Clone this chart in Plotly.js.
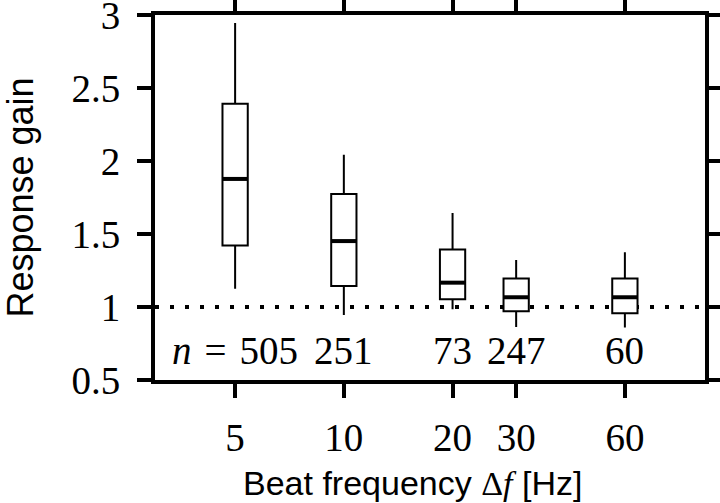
<!DOCTYPE html>
<html>
<head>
<meta charset="utf-8">
<script src="https://cdn.plot.ly/plotly-3.0.1.min.js"></script>
<style>html,body{margin:0;padding:0;background:#fff}#chart{width:720px;height:503px}</style>
</head>
<body>
<div id="chart"></div>
<script>
// Data
var beatFreq   = [5, 10, 20, 30, 60];
var nCounts    = [505, 251, 73, 247, 60];
var lowerFence = [1.126, 0.946, 0.985, 0.864, 0.860];
var q1         = [1.422, 1.144, 1.053, 0.971, 0.958];
var medians    = [1.878, 1.452, 1.167, 1.067, 1.067];
var q3         = [2.394, 1.775, 1.395, 1.195, 1.195];
var upperFence = [2.947, 2.044, 1.645, 1.322, 1.376];
var xTickLabels = ['5', '10', '20', '30', '60'];
var yTickVals = [0.5, 1, 1.5, 2, 2.5, 3];
var yTickLabels = ['0.5', '1', '1.5', '2', '2.5', '3'];
var refLevel = 1;

var logPos = beatFreq.map(function (v) { return Math.log10(v); });
var boxW = 0.07;

var traces = [{
  type: 'box',
  x: logPos,
  q1: q1, median: medians, q3: q3,
  lowerfence: lowerFence, upperfence: upperFence,
  width: boxW,
  boxpoints: false,
  fillcolor: '#ffffff',
  line: {color: '#000000', width: 2},
  whiskerwidth: 0,
  hoverinfo: 'skip',
  showlegend: false
}];

logPos.forEach(function (p, i) {
  traces.push({
    type: 'scatter', mode: 'lines',
    x: [p - boxW / 2, p + boxW / 2],
    y: [medians[i], medians[i]],
    line: {color: '#000000', width: 4},
    hoverinfo: 'skip', showlegend: false
  });
});

var annotations = logPos.map(function (p, i) {
  return {
    x: p, y: 0.705, xref: 'x', yref: 'y',
    text: (i === 0 ? '<i>n</i> \u200A=\u200A ' : '') + nCounts[i],
    showarrow: false, xanchor: 'center', yanchor: 'middle',
    font: {family: 'Liberation Serif', size: 39, color: '#000'}
  };
});

annotations.push({
  xref: 'paper', yref: 'paper', x: 0.469, y: -0.225,
  xanchor: 'center', yanchor: 'top', showarrow: false,
  text: 'Beat frequency <span style="font-family:Liberation Serif">Δ<i>f</i></span> [Hz]',
  font: {family: 'Liberation Sans', size: 34, color: '#000'}
});

var layout = {
  width: 720, height: 503,
  margin: {l: 155, r: 15, t: 15, b: 123},
  paper_bgcolor: '#ffffff', plot_bgcolor: '#ffffff',
  xaxis: {
    type: 'linear',
    range: [Math.log10(3), 2],
    tickvals: logPos, ticktext: xTickLabels,
    ticks: 'outside', ticklen: 14, tickwidth: 4, tickcolor: '#000',
    showline: true, linewidth: 4, linecolor: '#000', mirror: 'ticks',
    showgrid: false, zeroline: false,
    ticklabelstandoff: 6,
    ticklabeloverflow: 'allow',
    tickfont: {family: 'Liberation Serif', size: 39, color: '#000'}
  },
  yaxis: {
    range: [0.4999, 3.0015],
    tickvals: yTickVals, ticktext: yTickLabels,
    ticks: 'outside', ticklen: 14, tickwidth: 4, tickcolor: '#000',
    showline: true, linewidth: 4, linecolor: '#000', mirror: 'ticks',
    showgrid: false, zeroline: false,
    ticklabelstandoff: 9,
    ticklabeloverflow: 'allow',
    tickfont: {family: 'Liberation Serif', size: 39, color: '#000'},
    title: {text: 'Response gain', font: {family: 'Liberation Sans', size: 36, color: '#000'}, standoff: 33}
  },
  shapes: [{
    type: 'line', xref: 'paper', yref: 'y',
    x0: 0, x1: 1, y0: refLevel, y1: refLevel,
    line: {color: '#000', width: 4, dash: '4px,11px'},
    layer: 'below'
  }],
  annotations: annotations
};

Plotly.newPlot('chart', traces, layout, {displayModeBar: false, staticPlot: true});
</script>
</body>
</html>
